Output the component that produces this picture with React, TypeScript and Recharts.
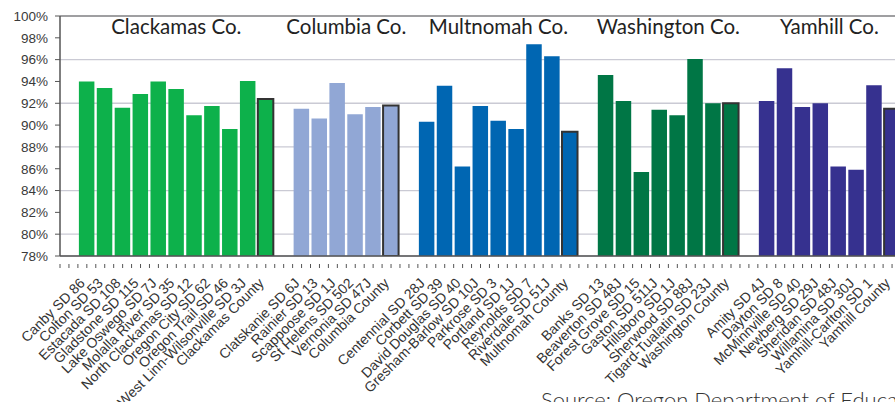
import React from 'react';
import {
  BarChart,
  Bar,
  XAxis,
  YAxis,
  CartesianGrid,
  Cell,
  ReferenceLine,
  ReferenceArea,
} from 'recharts';

// Graduation-style rates by district, grouped by county (last entry is the county total)
const clackamasNames = [
  'Canby SD 86', 'Colton SD 53', 'Estacada SD 108', 'Gladstone SD 115', 'Lake Oswego SD 7J',
  'Molalla River SD 35', 'North Clackamas SD 12', 'Oregon City SD 62', 'Oregon Trail SD 46',
  'West Linn-Wilsonville SD 3J', 'Clackamas County',
];
const clackamasValues = [94.0, 93.4, 91.6, 92.85, 94.0, 93.3, 90.9, 91.75, 89.65, 94.05, 92.4];

const columbiaNames = [
  'Clatskanie SD 6J', 'Rainier SD 13', 'Scappoose SD 1J', 'St Helens SD 502', 'Vernonia SD 47J',
  'Columbia County',
];
const columbiaValues = [91.5, 90.6, 93.85, 91.0, 91.65, 91.8];

const multnomahNames = [
  'Centennial SD 28J', 'Corbett SD 39', 'David Douglas SD 40', 'Gresham-Barlow SD 10J',
  'Parkrose SD 3', 'Portland SD 1J', 'Reynolds SD 7', 'Riverdale SD 51J', 'Multnomah County',
];
const multnomahValues = [90.3, 93.6, 86.2, 91.75, 90.4, 89.65, 97.4, 96.3, 89.4];

const washingtonNames = [
  'Banks SD 13', 'Beaverton SD 48J', 'Forest Grove SD 15', 'Gaston SD 511J', 'Hillsboro SD 1J',
  'Sherwood SD 88J', 'Tigard-Tualatin SD 23J', 'Washington County',
];
const washingtonValues = [94.6, 92.2, 85.7, 91.4, 90.9, 96.05, 92.0, 92.0];

const yamhillNames = [
  'Amity SD 4J', 'Dayton SD 8', 'McMinnville SD 40', 'Newberg SD 29J', 'Sheridan SD 48J',
  'Willamina SD 30J', 'Yamhill-Carlton SD 1', 'Yamhill County',
];
const yamhillValues = [92.2, 95.2, 91.65, 92.0, 86.2, 85.9, 93.65, 91.5];

const yTicks = [78, 80, 82, 84, 86, 88, 90, 92, 94, 96, 98, 100];

const groups = [
  { title: 'Clackamas Co.', names: clackamasNames, values: clackamasValues, color: '#0db14b' },
  { title: 'Columbia Co.', names: columbiaNames, values: columbiaValues, color: '#91a7d5' },
  { title: 'Multnomah Co.', names: multnomahNames, values: multnomahValues, color: '#0066b2' },
  { title: 'Washington Co.', names: washingtonNames, values: washingtonValues, color: '#007645' },
  { title: 'Yamhill Co.', names: yamhillNames, values: yamhillValues, color: '#36318f' },
];

// one empty slot before each county group
const rows: { key: string; label: string; value: number | null; color: string; total: boolean }[] = [];
groups.forEach((g, gi) => {
  rows.push({ key: `gap${gi}`, label: '', value: null, color: 'none', total: false });
  g.names.forEach((n, i) => {
    rows.push({ key: n, label: n, value: g.values[i], color: g.color, total: i === g.names.length - 1 });
  });
});

const CHART_W = 901;
const CHART_H = 402;
const Y_AXIS_W = 60;
const SLOT = (CHART_W - Y_AXIS_W) / rows.length;

const labelFont = '"Liberation Sans", Arial, sans-serif';
const titleFont = 'Lato, "Open Sans", sans-serif';

function XTick(props: any) {
  const { x, y, payload, index } = props;
  const row = rows[index] || rows.find((r) => r.key === payload.value);
  const isLast = index === rows.length - 1;
  return (
    <g>
      <line x1={x} x2={x} y1={y} y2={y + 4} stroke="#555" strokeWidth={1} />
      <line x1={x - SLOT / 2} x2={x - SLOT / 2} y1={y} y2={y + 4} stroke="#555" strokeWidth={1} />
      {isLast && <line x1={x + SLOT / 2} x2={x + SLOT / 2} y1={y} y2={y + 4} stroke="#555" strokeWidth={1} />}
      {row && row.label && (
        <g transform={`translate(${x - 1},${y + 20})`}>
          <text
            transform="rotate(-45)"
            textAnchor="end"
            fontSize={14}
            fontFamily={labelFont}
            fill="#333"
          >
            {row.label}
          </text>
        </g>
      )}
    </g>
  );
}

export default function App() {
  return (
    <div style={{ position: 'fixed', left: 0, top: 0, width: 895, height: 402, overflow: 'hidden', background: '#fff' }}>
      <BarChart
        width={CHART_W}
        height={CHART_H}
        data={rows}
        margin={{ top: 16, right: 0, left: 0, bottom: 6 }}
        barCategoryGap={0}
      >
        <CartesianGrid vertical={false} stroke="#cacad4" strokeWidth={1.3} />
        <XAxis
          dataKey="key"
          interval={0}
          height={140}
          tickLine={false}
          axisLine={{ stroke: '#555', strokeWidth: 1.5 }}
          tick={<XTick />}
        />
        <YAxis
          width={Y_AXIS_W}
          domain={[78, 100]}
          ticks={yTicks}
          allowDataOverflow
          tickFormatter={(v) => `${v}%`}
          tick={{ fontSize: 13.5, fill: '#3a3a3a', fontFamily: labelFont }}
          tickLine={{ stroke: '#555' }}
          tickSize={5}
          tickMargin={7}
          axisLine={{ stroke: '#555', strokeWidth: 1.5 }}
        />
        <ReferenceLine y={100} stroke="#8c8c8c" strokeWidth={1.5} />
        {groups.map((g) => (
          <ReferenceArea
            key={g.title}
            x1={g.names[0]}
            x2={g.names[g.names.length - 1]}
            fill="none"
            fillOpacity={0}
            stroke="none"
            label={{
              value: g.title,
              position: 'insideTop',
              offset: 3,
              fontSize: 20.5,
              fill: '#222',
              fontFamily: titleFont,
            }}
          />
        ))}
        <Bar dataKey="value" barSize={15.5} isAnimationActive={false}>
          {rows.map((r) => (
            <Cell
              key={r.key}
              fill={r.color}
              stroke={r.total ? '#333' : 'none'}
              strokeWidth={r.total ? 2 : 0}
            />
          ))}
        </Bar>
      </BarChart>
      <div
        style={{
          position: 'absolute',
          left: 541,
          top: 386,
          fontSize: 22,
          fontFamily: titleFont,
          fontWeight: 300,
          color: '#333',
          whiteSpace: 'nowrap',
        }}
      >
        Source: Oregon Department of Education
      </div>
    </div>
  );
}
